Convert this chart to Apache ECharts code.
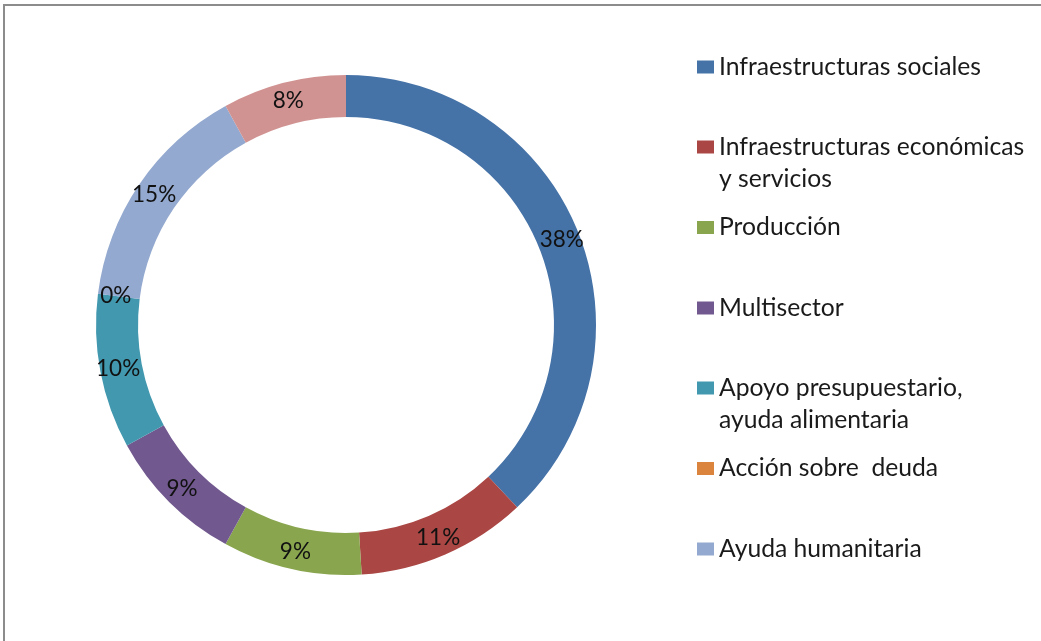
<!DOCTYPE html>
<html>
<head>
<meta charset="utf-8">
<script src="https://cdn.jsdelivr.net/npm/echarts@6/dist/echarts.min.js"></script>
<style>
  html, body { margin: 0; padding: 0; background: #fff; }
  #chart { width: 1041px; height: 641px; }
</style>
</head>
<body>
<div id="chart"></div>
<script>
// ---- data ----
const categories = [
  'Infraestructuras sociales',
  'Infraestructuras económicas y servicios',
  'Producción',
  'Multisector',
  'Apoyo presupuestario, ayuda alimentaria',
  'Acción sobre deuda',
  'Ayuda humanitaria',
  'Otros'
];
const values = [38, 11, 9, 9, 10, 0, 15, 8];
const colors = ['#4572A7', '#AA4643', '#89A54E', '#71588F', '#4198AF', '#DB843D', '#93A9CF', '#D19392'];
// legend text split into visible lines
const legendLines = [
  ['Infraestructuras sociales'],
  ['Infraestructuras económicas', 'y servicios'],
  ['Producción'],
  ['Multisector'],
  ['Apoyo presupuestario,', 'ayuda alimentaria'],
  ['Acción sobre  deuda'],
  ['Ayuda humanitaria']
];

const FONT = 'Lato, "Open Sans", sans-serif';
const LEGEND_FS = 24.7;
const legendCenters = [67, 147, 227.5, 308, 388, 468.5, 549];
const LINE_GAP = 32;

const chart = echarts.init(document.getElementById('chart'), null, { renderer: 'canvas' });

const legends = legendLines.map((lines, i) => ({
  data: [categories[i]],
  orient: 'vertical',
  left: 692,
  top: legendCenters[i] - 14 - 5,
  icon: 'rect',
  itemWidth: 17,
  itemHeight: 13,
  selectedMode: false,
  formatter: () => lines[0],
  textStyle: { fontFamily: FONT, fontSize: LEGEND_FS, lineHeight: 28, color: '#1a1a1a' }
}));

const graphics = [
  {
    type: 'rect',
    shape: { x: 4, y: 5, width: 1100, height: 700 },
    style: { fill: 'none', stroke: '#8c8c8c', lineWidth: 2 },
    silent: true
  }
];
legendLines.forEach((lines, i) => {
  for (let k = 1; k < lines.length; k++) {
    graphics.push({
      type: 'text',
      left: 719,
      top: legendCenters[i] + k * LINE_GAP - 14,
      style: { text: lines[k], font: LEGEND_FS + 'px ' + FONT, fill: '#1a1a1a', lineHeight: 28 },
      silent: true
    });
  }
});

chart.setOption({
  animation: false,
  backgroundColor: '#ffffff',
  color: colors,
  legend: legends,
  graphic: graphics,
  series: [{
    type: 'pie',
    center: [346, 325],
    radius: [208, 250],
    startAngle: 90,
    clockwise: true,
    avoidLabelOverlap: false,
    itemStyle: { borderWidth: 0 },
    label: {
      show: true,
      position: 'inside',
      formatter: p => Math.round(p.percent) + '%',
      fontFamily: FONT,
      fontSize: 22.5,
      color: '#111'
    },
    labelLine: { show: false },
    emphasis: { disabled: true },
    data: categories.map((c, i) => ({ name: c, value: values[i] }))
  }]
});
</script>
</body>
</html>
